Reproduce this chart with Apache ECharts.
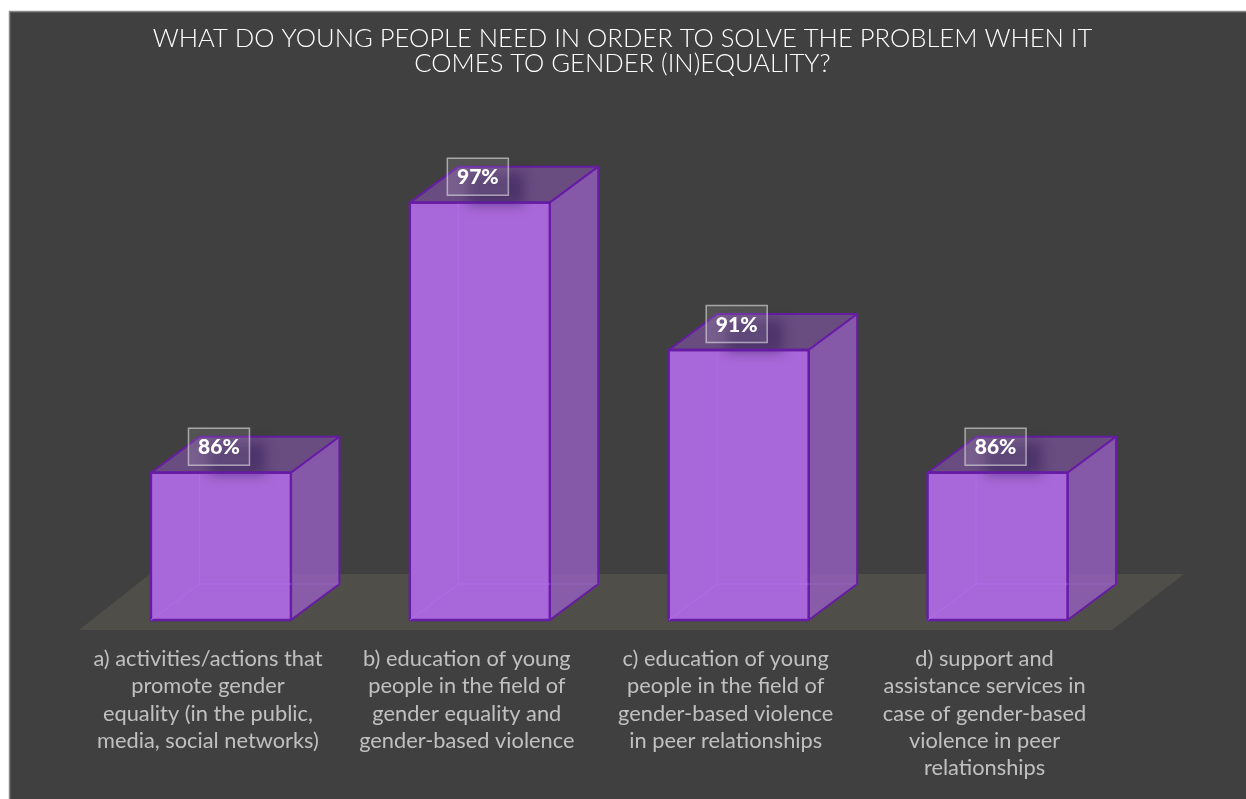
<!DOCTYPE html>
<html>
<head>
<meta charset="utf-8">
<style>html,body{margin:0;padding:0;background:#fff}#chart{width:1246px;height:799px}</style>
<script src="https://cdn.jsdelivr.net/npm/echarts@6/dist/echarts.min.js"></script>
</head>
<body>
<div id="chart"></div>
<script>
// Survey answers: share of respondents per need
const categories = [
  'a) activities/actions that\npromote gender\nequality (in the public,\nmedia, social networks)',
  'b) education of young\npeople in the field of\ngender equality and\ngender-based violence',
  'c) education of young\npeople in the field of\ngender-based violence\nin peer relationships',
  'd) support and\nassistance services in\ncase of gender-based\nviolence in peer\nrelationships'
];
const shares = [86, 97, 91, 86];
const titleLines = 'WHAT DO YOUNG PEOPLE NEED IN ORDER TO SOLVE THE PROBLEM WHEN IT\nCOMES TO GENDER (IN)EQUALITY?';

// Oblique projection used for the box depth
const DEPTH_X = 48.5;
const DEPTH_Y = 36;
const FONT = 'Lato, "Open Sans", sans-serif';
const EDGE = '#661ca4';
// The shadow caster sits off-canvas so only its blurred shadow is painted
const SHADOW_SHIFT = 3000;

function renderBox(params, api) {
  const idx = api.value(0);
  const top = api.coord([idx, api.value(1)]);
  const base = api.coord([idx, 80]);
  const w = api.size([1, 0])[0] * 0.5406;
  const x0 = top[0] - w / 2, x1 = top[0] + w / 2;
  const yT = top[1], yB = base[1];
  const dx = DEPTH_X, dy = DEPTH_Y;
  const face = (pts, fill) => ({
    type: 'polygon', shape: { points: pts },
    style: { fill, stroke: EDGE, lineWidth: 2, lineJoin: 'round' }
  });
  const hidden = (a, b, stroke) => ({
    type: 'line', shape: { x1: a[0], y1: a[1], x2: b[0], y2: b[1] },
    style: { stroke, lineWidth: 1 }
  });
  const tagX = x0 + 68, tagY = yT - 26;
  const seam = 'rgba(180,110,240,0.75)';
  return {
    type: 'group',
    children: [
      face([[x0, yT], [x1, yT], [x1 + dx, yT - dy], [x0 + dx, yT - dy]], 'rgba(162,92,216,0.42)'),
      face([[x1, yT], [x1 + dx, yT - dy], [x1 + dx, yB - dy], [x1, yB]], 'rgba(160,98,208,0.72)'),
      {
        type: 'polygon',
        shape: { points: [[x0, yT], [x1, yT], [x1, yB], [x0, yB]] },
        style: { fill: '#a968d9', stroke: EDGE, lineWidth: 2.4 }
      },
      // box edges seen through the translucent front
      hidden([x0 + dx, yT], [x0 + dx, yB - dy], seam),
      hidden([x0 + dx, yB - dy], [x1, yB - dy], seam),
      hidden([x0 + dx, yB - dy], [x0, yB], seam),
      hidden([x1, yB - dy], [x1 + dx, yB - dy], 'rgba(180,110,240,0.25)'),
      // soft shadow thrown by the value tag
      {
        type: 'rect',
        shape: { x: x0 + 58 + SHADOW_SHIFT, y: yT - 30, width: 56, height: 32 },
        style: {
          fill: '#000',
          shadowBlur: 12,
          shadowColor: 'rgba(50,28,85,0.5)',
          shadowOffsetX: -SHADOW_SHIFT
        },
        silent: true
      },
      {
        type: 'line',
        shape: { x1: x0, y1: yT, x2: x1, y2: yT },
        style: { stroke: EDGE, lineWidth: 2.4 }
      },
      {
        type: 'rect',
        shape: { x: tagX - 30.5, y: tagY - 18.5, width: 61, height: 37 },
        style: { fill: 'rgba(255,255,255,0.1)', stroke: 'rgba(225,225,225,0.62)', lineWidth: 1.5 }
      },
      {
        type: 'text',
        style: {
          x: tagX, y: tagY + 1,
          text: api.value(1) + '%',
          fill: '#ffffff', font: '900 21px ' + FONT,
          align: 'center', verticalAlign: 'middle'
        }
      }
    ]
  };
}

const chart = echarts.init(document.getElementById('chart'), null, { renderer: 'canvas' });
chart.setOption({
  animation: false,
  backgroundColor: '#ffffff',
  graphic: {
    elements: [
      {
        type: 'rect', z: -10, silent: true,
        shape: { x: 9.5, y: 11.5, width: 1240, height: 800 },
        style: { fill: '#404040', stroke: '#8a8a8a', lineWidth: 1.5 }
      },
      {
        type: 'polygon', z: -9, silent: true,
        shape: { points: [[150, 574], [1184, 574], [1112, 630], [79, 630]] },
        style: { fill: '#4f4e49' }
      }
    ]
  },
  title: {
    text: titleLines,
    left: 617.5, top: 21, textAlign: 'center',
    textStyle: { color: '#ffffff', fontFamily: FONT, fontWeight: 300, fontSize: 25.6, lineHeight: 25 }
  },
  grid: { left: 91.5, width: 1035.5, top: 129, height: 491 },
  xAxis: {
    type: 'category',
    data: categories,
    axisLine: { show: false },
    axisTick: { show: false },
    axisLabel: {
      interval: 0, margin: 25, padding: [0, 26, 0, 0],
      color: '#c0c0c0', fontFamily: FONT, fontSize: 21.8, lineHeight: 27.4, align: 'center'
    }
  },
  yAxis: { type: 'value', min: 80, max: 100, show: false, splitLine: { show: false } },
  series: [{
    type: 'custom',
    renderItem: renderBox,
    encode: { x: 0, y: 1 },
    data: shares.map((v, i) => [i, v]),
    clip: false
  }]
});
</script>
</body>
</html>
